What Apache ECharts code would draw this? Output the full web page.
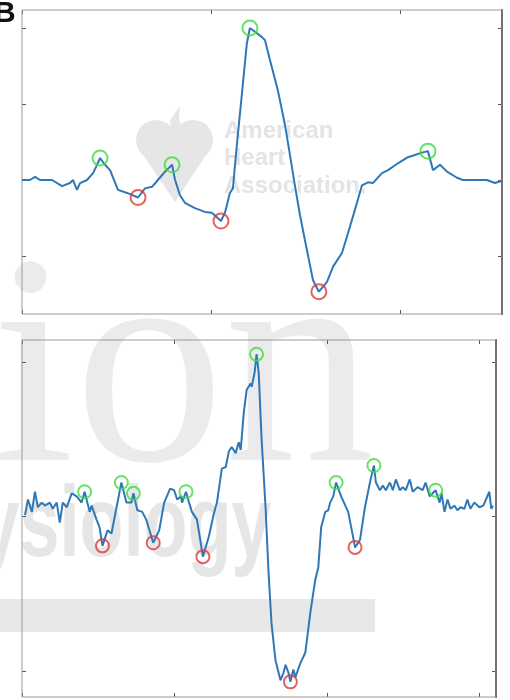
<!DOCTYPE html>
<html>
<head>
<meta charset="utf-8">
<script src="https://cdn.jsdelivr.net/npm/echarts@6/dist/echarts.min.js"></script>
<style>html,body{margin:0;padding:0;background:#fff}#c{width:510px;height:700px}</style>
</head>
<body>
<div id="c"></div>
<script>
// ---- Panel 1 (upper trace) ----
var topTrace = [[0,1.0],[4.2,1.0],[6.9,1.04],[9.5,1.0],[15.9,1.0],[21.2,0.92],[25.4,0.96],[27,1.0],[29.1,0.87],[30.7,0.96],[34.4,1.0],[37.6,1.09],[39.7,1.20],[41.3,1.29],[43.9,1.20],[46.6,1.13],[50.8,0.87],[55.6,0.83],[61.4,0.77],[65.1,0.89],[68.8,0.91],[71.9,1.0],[75.7,1.11],[79.4,1.20],[81,1.0],[83.6,0.80],[86.2,0.70],[91.5,0.63],[96.8,0.58],[100.5,0.57],[105.3,0.46],[107.4,0.57],[110,0.83],[111.6,0.89],[113.8,1.49],[116.4,2.14],[119,2.80],[120.6,3.0],[123.3,2.95],[127,2.88],[128.6,2.84],[131.2,2.58],[135.4,2.18],[139.2,1.72],[141.8,1.33],[144.4,0.93],[147.1,0.54],[149.7,0.21],[152.4,-0.12],[154,-0.32],[157.1,-0.47],[161.4,-0.34],[164.6,-0.14],[169.3,0.04],[172.5,0.30],[176.2,0.61],[179.9,0.93],[183.1,0.97],[185.7,0.96],[190.5,1.09],[193.7,1.13],[198.9,1.22],[204.2,1.30],[207.9,1.33],[211.6,1.36],[214.8,1.38],[217.5,1.13],[221.2,1.20],[224.9,1.11],[230.2,1.03],[233.3,1.0],[246,1.0],[250.3,0.96],[253.9,0.99]];
var topPeaks = [[41.3,1.29],[79.4,1.20],[120.6,3.0],[214.8,1.38]];
var topTroughs = [[61.4,0.77],[105.3,0.46],[157.1,-0.47]];
var topXTicks = [0,100,200];
var topYTicks = [0,1,2,3];

// ---- Panel 2 (lower trace) ----
var bottomTrace = [[2,1.01],[3.9,1.11],[6.5,1.03],[8.5,1.16],[10.4,1.06],[13,1.09],[15,1.07],[18.3,1.09],[20.2,1.05],[22.8,1.09],[24.8,0.96],[26.7,1.09],[29.4,1.06],[32.6,1.15],[35.9,1.13],[39.1,1.09],[41.1,1.16],[44.4,1.03],[45.7,1.07],[48.9,0.98],[50.9,0.93],[52.8,0.81],[56.1,0.91],[58.7,0.89],[65.2,1.22],[68.5,1.09],[71.8,1.09],[73.1,1.15],[75.7,1.04],[78.9,1.03],[81.5,0.98],[86.1,0.83],[90,0.91],[93.3,1.09],[97.2,1.18],[99.8,1.17],[101.8,1.11],[104.4,1.13],[105,1.09],[107.6,1.16],[109.6,1.09],[111.5,1.03],[114.8,0.98],[118.7,0.74],[122.6,0.87],[125.9,1.02],[127.9,1.09],[131.1,1.31],[133.7,1.32],[135.7,1.42],[137.6,1.45],[140.2,1.41],[142.2,1.48],[143.5,1.43],[145.5,1.67],[147.4,1.82],[150,1.86],[150.7,1.84],[152.6,1.93],[153.9,2.05],[155.3,1.93],[157.2,1.50],[159.8,1.06],[161.8,0.63],[163.7,0.31],[166.3,0.07],[169.6,-0.06],[171.6,-0.01],[172.9,0.04],[174.8,-0.01],[176.1,-0.07],[178.1,0.01],[179.4,-0.04],[182.6,0.05],[185.9,0.12],[189.2,0.38],[192.4,0.59],[194.4,0.67],[196.3,0.93],[199,1.03],[200.9,1.04],[202.2,1.09],[204.2,1.13],[206.1,1.22],[209.4,1.13],[214,1.03],[217.2,0.87],[218.5,0.80],[221.8,0.85],[225,1.06],[228.3,1.22],[230.9,1.33],[232.2,1.22],[234.8,1.17],[236.8,1.20],[238.7,1.17],[241.4,1.22],[243.3,1.17],[245.3,1.24],[247.9,1.17],[249.8,1.19],[251.8,1.17],[254.4,1.24],[256.4,1.16],[259.6,1.19],[262.9,1.17],[264.8,1.22],[267.5,1.13],[269.4,1.15],[271.4,1.17],[274,1.09],[275.3,1.15],[277.2,1.03],[279.2,1.11],[281.1,1.05],[283.8,1.07],[285.7,1.04],[287.7,1.06],[290.3,1.05],[292.2,1.11],[294.2,1.05],[296.8,1.09],[300.1,1.06],[302.7,1.07],[304,1.06],[306.6,1.16],[307.9,1.05],[309,1.07]];
var bottomPeaks = [[41.1,1.16],[65.2,1.22],[73.1,1.15],[107.6,1.16],[153.9,2.05],[206.1,1.22],[230.9,1.33],[271.4,1.17]];
var bottomTroughs = [[52.8,0.81],[86.1,0.83],[118.7,0.74],[176.1,-0.07],[218.5,0.80]];
var bottomXTicks = [0,100,200,300];
var bottomYTicks = [0,1,2];

var LINE = '#2e78b8', GREEN = '#3fdc3f', RED = '#e03a3a', BOX = '#9a9a9a', TICK = '#555';

function xAx(g, pos, max, ticks) {
  return {type:'value', gridIndex:g, position:pos, min:0, max:max,
    axisLine:{show:false, onZero:false}, axisTick:{show:true, inside:true, length:4, customValues:ticks, lineStyle:{color:TICK}},
    axisLabel:{show:false, customValues:ticks}, splitLine:{show:false}};
}
function yAx(g, pos, min, max, ticks) {
  var right = pos === 'right';
  return {type:'value', gridIndex:g, position:pos, min:min, max:max,
    axisLine:{show:right, onZero:false, lineStyle:{color:'#4a4a4a', width:2}},
    axisTick:{show:true, inside:true, length:4, customValues:ticks, lineStyle:{color:TICK}},
    axisLabel:{show:false, customValues:ticks}, splitLine:{show:false}};
}
function rings(data, xi, yi, color, size) {
  return {type:'scatter', xAxisIndex:xi, yAxisIndex:yi, data:data, symbol:'circle', symbolSize:size, z:5,
    itemStyle:{color:'rgba(0,0,0,0)', borderColor:color, borderWidth:2}, silent:true};
}
var WM = '#e6e6e6';

var chart = echarts.init(document.getElementById('c'), null, {renderer:'canvas'});
chart.setOption({
  animation:false,
  backgroundColor:'#fff',
  grid:[
    {left:22, top:10, width:480, height:304, show:true, borderColor:BOX, borderWidth:1, backgroundColor:'rgba(0,0,0,0)', z:1},
    {left:22, top:340, width:474, height:357, show:true, borderColor:BOX, borderWidth:1, backgroundColor:'rgba(0,0,0,0)', z:1}
  ],
  xAxis:[xAx(0,'bottom',254,topXTicks), xAx(0,'top',254,topXTicks), xAx(1,'bottom',311,bottomXTicks), xAx(1,'top',311,bottomXTicks)],
  yAxis:[yAx(0,'left',-0.763,3.237,topYTicks), yAx(0,'right',-0.763,3.237,topYTicks),
         yAx(1,'left',-0.168,2.142,bottomYTicks), yAx(1,'right',-0.168,2.142,bottomYTicks)],
  graphic:[
    // faint publisher watermark
    {type:'circle', z:0, silent:true, shape:{cx:156, cy:140, r:20}, style:{fill:WM}},
    {type:'circle', z:0, silent:true, shape:{cx:193, cy:140, r:20}, style:{fill:WM}},
    {type:'polygon', z:0, silent:true, shape:{points:[[137,146],[175,128],[212,146],[175,202]]}, style:{fill:WM}},
    {type:'polygon', z:0, silent:true, shape:{points:[[171,132],[170,120],[180,106],[179,118],[182,132]]}, style:{fill:WM}},
    {type:'text', z:0, silent:true, x:224, y:131, style:{text:'American', font:'bold 24px "Liberation Sans", Arial, sans-serif', fill:'#e4e4e4', align:'left', verticalAlign:'middle'}},
    {type:'text', z:0, silent:true, x:224, y:158, style:{text:'Heart', font:'bold 24px "Liberation Sans", Arial, sans-serif', fill:'#e4e4e4', align:'left', verticalAlign:'middle'}},
    {type:'text', z:0, silent:true, x:224, y:186, style:{text:'Association.', font:'bold 24px "Liberation Sans", Arial, sans-serif', fill:'#e4e4e4', align:'left', verticalAlign:'middle'}},
    {type:'text', z:0, silent:true, x:-9, y:381, style:{text:'ion', font:'300px "Liberation Serif", "DejaVu Serif", serif', fill:'#ebebeb', align:'left', verticalAlign:'middle'}},
    {type:'text', z:0, silent:true, x:-16, y:528, originX:-16, originY:528, scaleX:0.72, style:{text:'ysiology', font:'bold 100px "Liberation Sans", Arial, sans-serif', fill:WM, align:'left', verticalAlign:'middle'}},
    {type:'rect', z:0, silent:true, shape:{x:0, y:599, width:375, height:33}, style:{fill:'#e8e8e8'}},
    // panel label
    {type:'text', z:10, silent:true, x:-6, y:14, style:{text:'B', font:'bold 30px "Liberation Sans", Arial, sans-serif', fill:'#111', align:'left', verticalAlign:'middle'}}
  ],
  series:[
    {type:'line', xAxisIndex:0, yAxisIndex:0, data:topTrace, showSymbol:false, z:3, lineStyle:{color:LINE, width:2}, silent:true},
    rings(topPeaks,0,0,GREEN,15),
    rings(topTroughs,0,0,RED,15),
    {type:'line', xAxisIndex:2, yAxisIndex:2, data:bottomTrace, showSymbol:false, z:3, lineStyle:{color:LINE, width:2}, silent:true},
    rings(bottomPeaks,2,2,GREEN,13),
    rings(bottomTroughs,2,2,RED,13)
  ]
});
</script>
</body>
</html>
